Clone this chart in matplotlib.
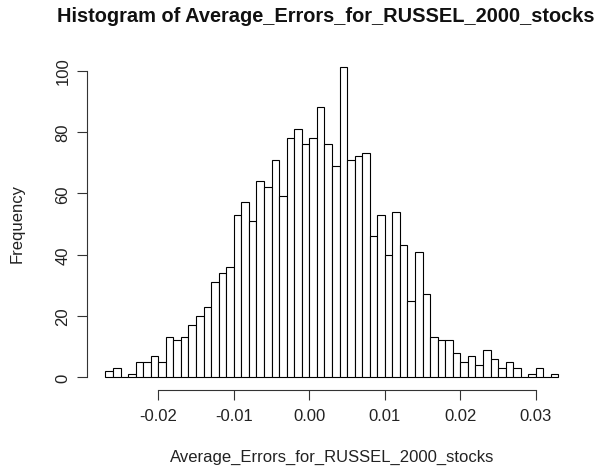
import numpy as np
import matplotlib
matplotlib.use('Agg')
import matplotlib.pyplot as plt

# histogram bins (width 0.001) and counts
bin_start = -0.027
bin_width = 0.001
counts = [2, 3, 0, 1, 5, 5, 7, 5, 13, 12, 13, 17, 20, 23, 31, 34, 36, 53, 57, 51,
          64, 62, 71, 59, 78, 81, 76, 78, 88, 76, 69, 101, 71, 72, 73, 46, 53, 40, 54, 43,
          25, 41, 27, 13, 12, 12, 8, 5, 7, 4, 9, 6, 3, 5, 3, 0, 1, 3, 0, 1]
x_ticks = [-0.02, -0.01, 0.00, 0.01, 0.02, 0.03]
x_tick_labels = ['-0.02', '-0.01', '0.00', '0.01', '0.02', '0.03']
y_ticks = [0, 20, 40, 60, 80, 100]

title = 'Histogram of Average_Errors_for_RUSSEL_2000_stocks'
xlabel = 'Average_Errors_for_RUSSEL_2000_stocks'
ylabel = 'Frequency'

plt.rcParams['font.family'] = ['Liberation Sans', 'DejaVu Sans']

W, H = 607, 477
fig = plt.figure(figsize=(W / 100, H / 100), dpi=100)

# plot region in pixels (R style, axes drawn on region edge)
left_px, right_px, top_px, bottom_px = 87.3, 576.6, 56.1, 390.7
ax = fig.add_axes([left_px / W, 1 - bottom_px / H,
                   (right_px - left_px) / W, (bottom_px - top_px) / H])

lefts = bin_start + bin_width * np.arange(len(counts))
ax.bar(lefts, counts, width=bin_width, align='edge', facecolor='white',
       edgecolor='black', linewidth=0.8)

lo, hi = bin_start, bin_start + bin_width * len(counts)
pad_x = 0.04 * (hi - lo)
ax.set_xlim(lo - pad_x, hi + pad_x)
ymax = max(counts)
ax.set_ylim(-0.04 * ymax, ymax * 1.04)

for s in ['top', 'right']:
    ax.spines[s].set_visible(False)
ax.spines['left'].set_bounds(0, 100)
ax.spines['bottom'].set_bounds(-0.02, 0.03)
for s in ['left', 'bottom']:
    ax.spines[s].set_linewidth(0.8)
    ax.spines[s].set_color('#333333')

ax.set_xticks(x_ticks)
ax.set_xticklabels(x_tick_labels)
ax.set_yticks(y_ticks)
ax.tick_params(axis='both', length=7.2, width=0.8, color='#333333',
               labelsize=12, labelcolor='#222222')
ax.tick_params(axis='x', pad=6)
ax.tick_params(axis='y', pad=5, labelrotation=90)
for lab in ax.get_yticklabels():
    lab.set_va('center')

cx = (left_px + right_px) / 2 / W
fig.text(326 / W, 1 - 17 / H, title, ha='center', va='center',
         fontsize=14.4, fontweight='bold', color='#111111')
fig.text(cx, 1 - 457 / H, xlabel, ha='center', va='center',
         fontsize=12, color='#222222')
fig.text(17 / W, 1 - (top_px + bottom_px) / 2 / H, ylabel, ha='center',
         va='center', rotation=90, fontsize=12, color='#222222')

fig.savefig('out.png', dpi=100)
